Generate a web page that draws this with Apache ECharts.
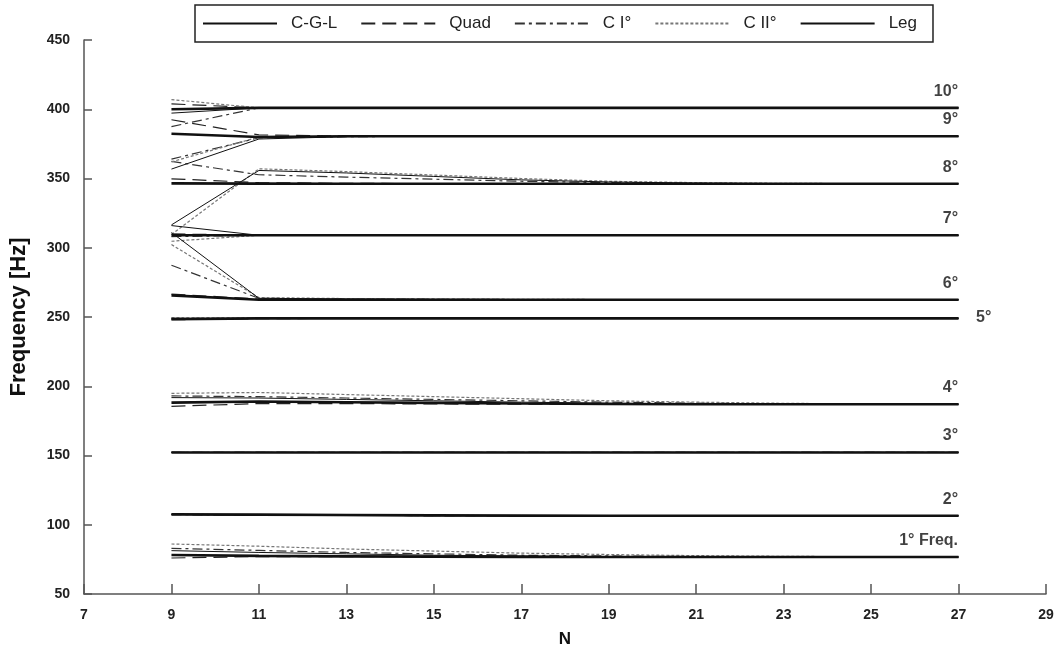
<!DOCTYPE html>
<html>
<head>
<meta charset="utf-8">
<script src="https://cdn.jsdelivr.net/npm/echarts@6/dist/echarts.min.js"></script>
<style>
html, body { margin: 0; padding: 0; background: #fff; }
#chart { width: 1060px; height: 653px; }
</style>
</head>
<body>
<div id="chart"></div>
<script>
// number of elements N
var nValues = [9, 11, 13, 15, 17, 19, 21, 23, 25, 27];
var modeLabels = ['1° Freq.', '2°', '3°', '4°', '5°', '6°', '7°', '8°', '9°', '10°'];
var modelNames = ['C-G-L', 'Quad', 'C I°', 'C II°', 'Leg'];

// frequencies [Hz] per mode (1..10), one value per N
var cglModes = [
  [78.2, 77.5, 77.2, 77.0, 76.8, 76.7, 76.7, 76.7, 76.7, 76.7],
  [107.5, 107.3, 107.0, 106.8, 106.6, 106.5, 106.5, 106.5, 106.5, 106.5],
  [152.2, 152.2, 152.2, 152.2, 152.2, 152.2, 152.2, 152.2, 152.2, 152.2],
  [188.2, 189.0, 188.5, 188.0, 187.5, 187.2, 187.0, 187.0, 187.0, 187.0],
  [248.5, 249.0, 249.0, 249.0, 249.0, 249.0, 249.0, 249.0, 249.0, 249.0],
  [265.6, 262.5, 262.5, 262.5, 262.5, 262.5, 262.5, 262.5, 262.5, 262.5],
  [309.0, 309.0, 309.0, 309.0, 309.0, 309.0, 309.0, 309.0, 309.0, 309.0],
  [346.5, 346.3, 346.2, 346.2, 346.2, 346.2, 346.2, 346.2, 346.2, 346.2],
  [382.3, 380.0, 380.5, 380.5, 380.5, 380.5, 380.5, 380.5, 380.5, 380.5],
  [400.0, 401.0, 401.0, 401.0, 401.0, 401.0, 401.0, 401.0, 401.0, 401.0]
];
var quadModes = [
  [76.0, 77.0, 77.0, 76.8, 76.7, 76.7, 76.7, 76.7, 76.7, 76.7],
  [107.5, 107.0, 106.8, 106.6, 106.5, 106.5, 106.5, 106.5, 106.5, 106.5],
  [152.2, 152.2, 152.2, 152.2, 152.2, 152.2, 152.2, 152.2, 152.2, 152.2],
  [185.5, 187.5, 187.5, 187.2, 187.0, 187.0, 187.0, 187.0, 187.0, 187.0],
  [248.0, 248.8, 249.0, 249.0, 249.0, 249.0, 249.0, 249.0, 249.0, 249.0],
  [266.5, 263.0, 262.7, 262.6, 262.5, 262.5, 262.5, 262.5, 262.5, 262.5],
  [310.0, 309.0, 309.0, 309.0, 309.0, 309.0, 309.0, 309.0, 309.0, 309.0],
  [349.8, 347.0, 346.5, 346.3, 346.2, 346.2, 346.2, 346.2, 346.2, 346.2],
  [392.4, 381.5, 380.7, 380.5, 380.5, 380.5, 380.5, 380.5, 380.5, 380.5],
  [403.9, 401.0, 401.0, 401.0, 401.0, 401.0, 401.0, 401.0, 401.0, 401.0]
];
var c1Modes = [
  [83.0, 81.5, 80.0, 79.0, 78.0, 77.5, 77.0, 76.8, 76.7, 76.7],
  [107.3, 107.0, 106.8, 106.6, 106.5, 106.5, 106.5, 106.5, 106.5, 106.5],
  [152.2, 152.2, 152.2, 152.2, 152.2, 152.2, 152.2, 152.2, 152.2, 152.2],
  [193.0, 192.5, 191.5, 190.5, 189.5, 188.5, 187.8, 187.3, 187.0, 187.0],
  [249.0, 249.0, 249.0, 249.0, 249.0, 249.0, 249.0, 249.0, 249.0, 249.0],
  [287.4, 263.5, 263.0, 262.8, 262.6, 262.5, 262.5, 262.5, 262.5, 262.5],
  [308.0, 309.0, 309.0, 309.0, 309.0, 309.0, 309.0, 309.0, 309.0, 309.0],
  [362.3, 352.7, 351.0, 349.5, 348.0, 347.0, 346.5, 346.3, 346.2, 346.2],
  [364.0, 379.4, 380.2, 380.5, 380.5, 380.5, 380.5, 380.5, 380.5, 380.5],
  [387.5, 401.0, 401.0, 401.0, 401.0, 401.0, 401.0, 401.0, 401.0, 401.0]
];
var c2Modes = [
  [86.1, 84.5, 82.5, 81.0, 79.5, 78.5, 77.7, 77.2, 76.9, 76.7],
  [107.5, 107.3, 107.0, 106.8, 106.6, 106.5, 106.5, 106.5, 106.5, 106.5],
  [152.2, 152.2, 152.2, 152.2, 152.2, 152.2, 152.2, 152.2, 152.2, 152.2],
  [194.9, 195.5, 194.0, 192.5, 191.0, 189.5, 188.5, 187.7, 187.2, 187.0],
  [249.5, 249.3, 249.0, 249.0, 249.0, 249.0, 249.0, 249.0, 249.0, 249.0],
  [302.3, 264.0, 263.3, 263.0, 262.8, 262.6, 262.5, 262.5, 262.5, 262.5],
  [304.7, 309.0, 309.0, 309.0, 309.0, 309.0, 309.0, 309.0, 309.0, 309.0],
  [309.5, 357.0, 355.0, 352.5, 350.0, 348.0, 347.0, 346.5, 346.3, 346.2],
  [362.0, 380.0, 380.5, 380.5, 380.5, 380.5, 380.5, 380.5, 380.5, 380.5],
  [407.0, 401.0, 401.0, 401.0, 401.0, 401.0, 401.0, 401.0, 401.0, 401.0]
];
var legModes = [
  [81.3, 80.0, 79.0, 78.0, 77.5, 77.0, 76.8, 76.7, 76.7, 76.7],
  [107.5, 106.8, 106.6, 106.5, 106.5, 106.5, 106.5, 106.5, 106.5, 106.5],
  [152.2, 152.2, 152.2, 152.2, 152.2, 152.2, 152.2, 152.2, 152.2, 152.2],
  [191.8, 191.5, 190.5, 189.5, 188.5, 187.8, 187.3, 187.0, 187.0, 187.0],
  [248.5, 249.0, 249.0, 249.0, 249.0, 249.0, 249.0, 249.0, 249.0, 249.0],
  [311.0, 263.5, 263.0, 262.8, 262.6, 262.5, 262.5, 262.5, 262.5, 262.5],
  [316.0, 309.0, 309.0, 309.0, 309.0, 309.0, 309.0, 309.0, 309.0, 309.0],
  [316.5, 355.8, 354.0, 351.5, 349.0, 347.5, 346.7, 346.3, 346.2, 346.2],
  [356.8, 378.5, 380.2, 380.5, 380.5, 380.5, 380.5, 380.5, 380.5, 380.5],
  [397.2, 401.0, 401.0, 401.0, 401.0, 401.0, 401.0, 401.0, 401.0, 401.0]
];

var allModels = [cglModes, quadModes, c1Modes, c2Modes, legModes];
var lineStyles = [
  { color: '#111', width: 2.6, type: 'solid' },
  { color: '#222', width: 1.2, type: [14, 7] },
  { color: '#333', width: 1.2, type: [10, 4, 3, 4] },
  { color: '#777', width: 1.2, type: [3, 2] },
  { color: '#111', width: 1, type: 'solid' }
];

var series = [];
allModels.forEach(function (modes, m) {
  modes.forEach(function (vals) {
    series.push({
      name: modelNames[m],
      type: 'line',
      symbol: 'none',
      silent: true,
      lineStyle: lineStyles[m],
      itemStyle: { color: lineStyles[m].color },
      z: m === 0 ? 3 : 2,
      data: nValues.map(function (n, i) { return [n, vals[i]]; })
    });
  });
});

// mode labels at the right end of each curve
var lastN = nValues[nValues.length - 1];
series.push({
  name: 'labels',
  type: 'scatter',
  symbolSize: 1,
  silent: true,
  itemStyle: { color: 'rgba(0,0,0,0)' },
  z: 5,
  label: {
    show: true,
    position: [0, -16],
    align: 'right',
    verticalAlign: 'middle',
    color: '#111',
    fontSize: 16,
    fontWeight: 'bold',
    fontFamily: 'Liberation Sans, Arial, sans-serif',
    formatter: function (p) { return modeLabels[p.dataIndex]; }
  },
  data: cglModes.map(function (vals, k) {
    var item = { value: [lastN, vals[vals.length - 1]] };
    if (modeLabels[k] === '5°') {
      item.label = { position: [18, 0], align: 'left' };
    }
    return item;
  })
});

var chart = echarts.init(document.getElementById('chart'));
chart.setOption({
  animation: false,
  backgroundColor: '#fff',
  textStyle: { fontFamily: 'Liberation Sans, Arial, sans-serif' },
  legend: {
    data: modelNames,
    left: 195,
    top: 5,
    itemWidth: 74,
    itemHeight: 14,
    itemGap: 23,
    borderColor: '#222',
    borderWidth: 1.5,
    padding: [10, 16, 10, 7],
    selectedMode: false,
    itemStyle: { opacity: 0 },
    textStyle: { fontSize: 17, color: '#222', padding: [0, 0, 0, 9] }
  },
  grid: { left: 82, right: 14, top: 40, bottom: 58 },
  xAxis: {
    type: 'value',
    min: 7,
    max: 29,
    interval: 2,
    name: 'N',
    nameLocation: 'middle',
    nameGap: 37,
    nameTextStyle: { fontSize: 17, fontWeight: 'bold', color: '#111' },
    axisLine: { lineStyle: { color: '#555', width: 1.5 } },
    axisTick: { inside: true, length: 10, lineStyle: { color: '#555', width: 1.5 } },
    axisLabel: { fontSize: 14, fontWeight: 'bold', color: '#222', margin: 14 },
    splitLine: { show: false }
  },
  yAxis: {
    type: 'value',
    min: 50,
    max: 450,
    interval: 50,
    name: 'Frequency [Hz]',
    nameLocation: 'middle',
    nameGap: 54,
    nameTextStyle: { fontSize: 22, fontWeight: 'bold', color: '#111' },
    axisLine: { show: true, lineStyle: { color: '#555', width: 1.5 } },
    axisTick: { show: true, inside: true, length: 8, lineStyle: { color: '#555', width: 1.5 } },
    axisLabel: { fontSize: 14, fontWeight: 'bold', color: '#222', margin: 14 },
    splitLine: { show: false }
  },
  series: series
});
</script>
</body>
</html>
